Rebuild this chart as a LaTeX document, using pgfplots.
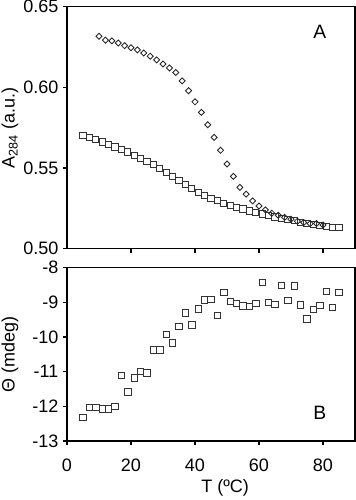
\documentclass[border=0pt]{standalone}
\usepackage{fontspec}
\setmainfont{Liberation Sans}
\usepackage{pgfplots}
\pgfplotsset{compat=1.18}
\begin{document}
\begin{tikzpicture}
\path[use as bounding box] (-50.25pt,5pt) rectangle (216.75pt,-370pt);
\pgfplotsset{
  every axis/.append style={
    scale only axis, width=216pt,
    font=\fontsize{13.5}{16}\selectfont,
    /pgf/number format/assume math mode=true,
    axis line style={line width=0.9pt},
    xmin=0, xmax=90,
    tick align=outside, tick pos=left,
    major tick length=3pt,
    tick style={line width=0.8pt, black},
  },
}
\begin{axis}[
  name=A, at={(0,0)}, anchor=north west,
  height=181.5pt,
  ymin=0.50, ymax=0.65,
  ytick={0.50,0.55,0.60,0.65},
  yticklabel style={/pgf/number format/.cd, fixed, fixed zerofill, precision=2},
  xtick={20,40,60,80}, xticklabels={},
  ylabel={A\textsubscript{284} (a.u.)},
  ylabel style={at={(axis description cs:-0.198,0.5)}, anchor=center},
]
\addplot[only marks, mark=square, mark size=2.3pt, mark options={draw=black!80, fill=white, line width=0.65pt}] coordinates {
(5,0.5700)(7,0.5688)(9,0.5677)(11,0.5662)(13,0.5646)(15,0.5631)(17,0.5615)(19,0.5600)(21,0.5580)(23,0.5562)(25,0.5542)(27,0.5521)(29,0.5498)(31,0.5475)(33,0.5450)(35,0.5425)(37,0.5398)(39,0.5372)(41,0.5350)(43,0.5330)(45,0.5313)(47,0.5298)(49,0.5282)(51,0.5270)(53,0.5258)(55,0.5246)(57,0.5234)(59,0.5224)(61,0.5215)(63,0.5206)(65,0.5197)(67,0.5189)(69,0.5181)(71,0.5173)(73,0.5165)(75,0.5158)(77,0.5151)(79,0.5145)(81,0.5139)(83,0.5134)(85,0.5130)
};
\addplot[only marks, mark=square, mark size=1.6pt, mark options={rotate=45, draw=black!85, fill=white, line width=0.65pt}] coordinates {
(10,0.6317)(12,0.6292)(14,0.6288)(16,0.6275)(18,0.6258)(20,0.6245)(22,0.6232)(24,0.6213)(26,0.6193)(28,0.6170)(30,0.6145)(32,0.6120)(34,0.6092)(36,0.6040)(38,0.5979)(40,0.5910)(42,0.5845)(44,0.5768)(46,0.5690)(48,0.5610)(50,0.5525)(52,0.5448)(54,0.5380)(56,0.5338)(58,0.5296)(60,0.5265)(62,0.5240)(64,0.5220)(66,0.5207)(68,0.5194)(70,0.5183)(72,0.5170)(74,0.5162)(76,0.5155)(78,0.5156)(80,0.5147)
};
\node[font=\fontsize{14.5}{17}\selectfont] at (axis cs:79,0.6344) {A};
\end{axis}
\begin{axis}[
  name=B, at={(0,-195.75pt)}, anchor=north west,
  height=130pt,
  ymin=-13, ymax=-8,
  ytick={-13,-12,-11,-10,-9,-8},
  xtick={0,20,40,60,80},
  xticklabel style={yshift=-7pt},
  xlabel={T (ºC)},
  xlabel style={at={(axis description cs:0.549,0)}, anchor=center, yshift=-35pt},
  ylabel={Θ (mdeg)},
  ylabel style={at={(axis description cs:-0.198,0.5)}, anchor=center},
]
\addplot[only marks, mark=square, mark size=2.4pt, mark options={draw=black!80, fill=white, line width=0.65pt}] coordinates {
(5,-12.32)(7,-12.03)(9,-12.03)(11,-12.07)(13,-12.07)(15,-12.00)(17,-11.10)(19,-11.58)(21,-11.18)(23,-11.00)(25,-11.04)(27,-10.37)(29,-10.37)(31,-9.93)(33,-10.17)(35,-9.70)(37,-9.30)(39,-9.65)(41,-9.19)(43,-8.93)(45,-8.91)(47,-9.38)(49,-8.71)(51,-8.98)(53,-9.03)(55,-9.10)(57,-9.12)(59,-9.03)(61,-8.43)(63,-9.01)(65,-9.06)(67,-8.51)(69,-8.95)(71,-8.53)(73,-9.08)(75,-9.48)(77,-9.20)(79,-9.09)(81,-8.69)(83,-9.15)(85,-8.71)
};
\node[font=\fontsize{14.5}{17}\selectfont] at (axis cs:79,-12.2) {B};
\end{axis}
\end{tikzpicture}
\end{document}
